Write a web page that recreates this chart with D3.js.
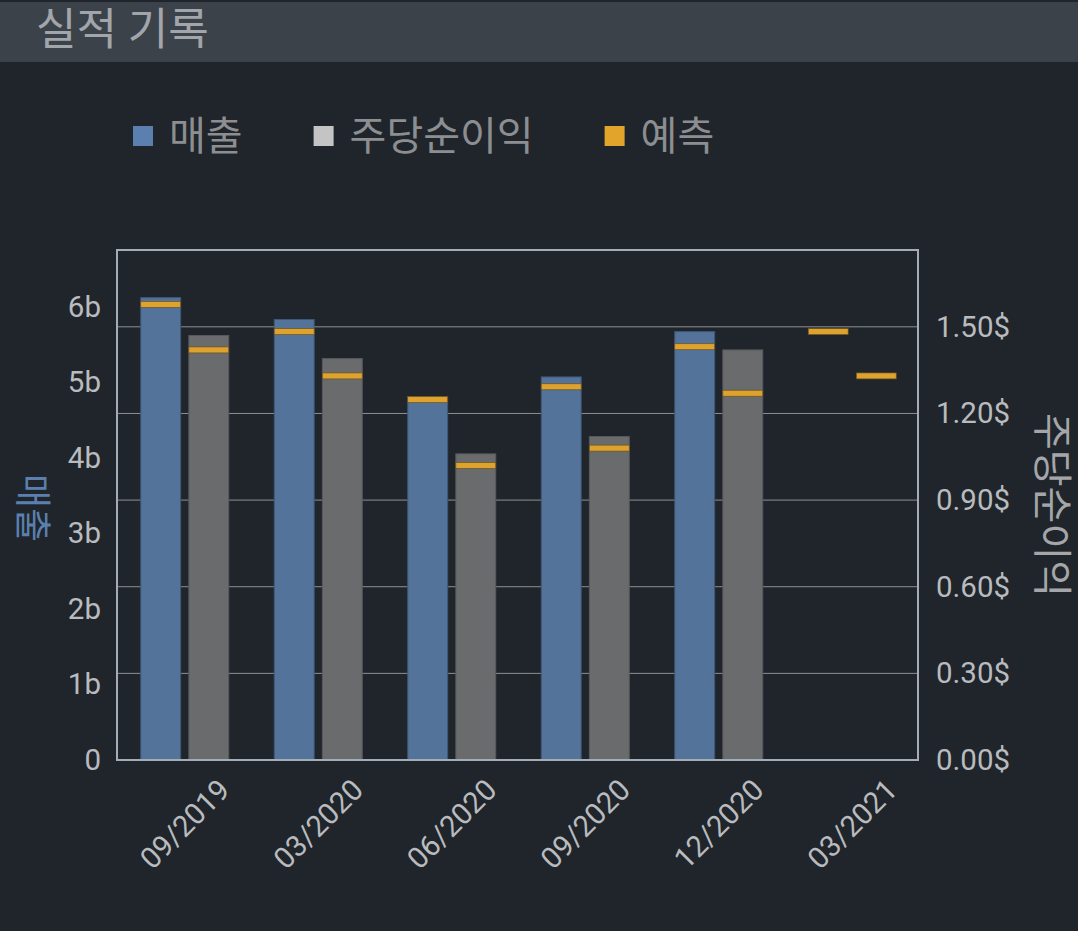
<!DOCTYPE html>
<html>
<head>
<meta charset="utf-8">
<script src="https://cdn.jsdelivr.net/npm/d3@7.9.0/dist/d3.min.js"></script>
<style>
  html, body { margin: 0; padding: 0; background: #1f252b; }
  svg { display: block; font-family: Roboto, "Noto Sans CJK KR", sans-serif; }
</style>
</head>
<body>
<div id="chart"></div>
<script>
// Data
const categories = ['09/2019', '03/2020', '06/2020', '09/2020', '12/2020', '03/2021'];
const revenue = [6.12, 5.83, 4.81, 5.07, 5.67, null];          // billions
const revenueForecast = [6.03, 5.67, 4.77, 4.94, 5.47, 5.67];  // billions
const eps = [1.47, 1.39, 1.06, 1.12, 1.42, null];              // $
const epsForecast = [1.42, 1.33, 1.02, 1.08, 1.27, 1.33];      // $
const revenueTicks = [0, 1, 2, 3, 4, 5, 6];
const epsTicks = [0, 0.3, 0.6, 0.9, 1.2, 1.5];
const legendItems = [
  { label: '매출', color: '#5b80b0' },
  { label: '주당순이익', color: '#c4c4c4' },
  { label: '예측', color: '#e3a42c' }
];

const width = 1078, height = 931;
const plot = { left: 117, right: 918, top: 250, bottom: 760 };

const svg = d3.select('#chart').append('svg')
  .attr('width', width).attr('height', height);

svg.append('rect').attr('width', width).attr('height', height).attr('fill', '#1f252b');

// header band
svg.append('rect').attr('x', 0).attr('y', 2).attr('width', width).attr('height', 60)
  .attr('fill', '#3c424a');
svg.append('text').attr('x', 36).attr('y', 45)
  .attr('font-size', 44).attr('fill', '#a2a6ab')
  .text('실적 기록');

// legend
const legend = svg.append('g').attr('transform', 'translate(133, 136)');
let lx = 0;
legendItems.forEach(item => {
  const g = legend.append('g').attr('transform', `translate(${lx}, 0)`);
  g.append('rect').attr('x', 0).attr('y', -10).attr('width', 20).attr('height', 20)
    .attr('fill', item.color);
  const t = g.append('text').attr('x', 36).attr('y', 0).attr('dy', '0.35em')
    .attr('font-size', 40).attr('fill', '#8c8e91').text(item.label);
  lx += 36 + t.node().getComputedTextLength() + 71;
});

// scales
const x0 = d3.scaleBand().domain(categories).range([plot.left, plot.right]);
const x1 = d3.scaleBand().domain(['rev', 'eps'])
  .range([0, x0.bandwidth()]).paddingInner(0.17).paddingOuter(0.473);
const yL = d3.scaleLinear().domain([0, 6.75]).range([plot.bottom, plot.top]);
const yR = d3.scaleLinear().domain([0, 1.766]).range([plot.bottom, plot.top]);

// gridlines (right axis)
svg.append('g').selectAll('line').data(epsTicks).join('line')
  .attr('x1', plot.left).attr('x2', plot.right)
  .attr('y1', d => yR(d)).attr('y2', d => yR(d))
  .attr('stroke', '#8d9093').attr('stroke-width', 1);

// bars
const groups = svg.append('g').selectAll('g').data(categories).join('g')
  .attr('transform', d => `translate(${x0(d) + 1}, 0)`);

groups.filter((d, i) => revenue[i] != null).append('rect')
  .attr('x', x1('rev')).attr('width', x1.bandwidth())
  .attr('y', d => yL(revenue[categories.indexOf(d)]))
  .attr('height', d => yL(0) - yL(revenue[categories.indexOf(d)]))
  .attr('fill', '#53739a').attr('stroke', '#3e5878').attr('stroke-width', 1);

groups.filter((d, i) => eps[i] != null).append('rect')
  .attr('x', x1('eps')).attr('width', x1.bandwidth())
  .attr('y', d => yR(eps[categories.indexOf(d)]))
  .attr('height', d => yR(0) - yR(eps[categories.indexOf(d)]))
  .attr('fill', '#696b6d').attr('stroke', '#58595b').attr('stroke-width', 1);

// forecast markers
groups.append('rect')
  .attr('x', x1('rev')).attr('width', x1.bandwidth())
  .attr('y', d => yL(revenueForecast[categories.indexOf(d)]) - 3).attr('height', 6)
  .attr('fill', '#dea22f').attr('stroke', '#6a5020').attr('stroke-width', 0.7);
groups.append('rect')
  .attr('x', x1('eps')).attr('width', x1.bandwidth())
  .attr('y', d => yR(epsForecast[categories.indexOf(d)]) - 3).attr('height', 6)
  .attr('fill', '#dea22f').attr('stroke', '#6a5020').attr('stroke-width', 0.7);

// frame
svg.append('rect')
  .attr('x', plot.left).attr('y', plot.top)
  .attr('width', plot.right - plot.left).attr('height', plot.bottom - plot.top)
  .attr('fill', 'none').attr('stroke', '#a3adb8').attr('stroke-width', 2);

// axes
const tickColor = '#b9bbbe';
const leftAxis = svg.append('g')
  .attr('transform', `translate(${plot.left}, 0)`)
  .call(d3.axisLeft(yL).tickValues(revenueTicks).tickSize(0).tickPadding(16)
    .tickFormat(d => d === 0 ? '0' : d + 'b'));
const rightAxis = svg.append('g')
  .attr('transform', `translate(${plot.right}, 0)`)
  .call(d3.axisRight(yR).tickValues(epsTicks).tickSize(0).tickPadding(18)
    .tickFormat(d => d.toFixed(2) + '$'));
const bottomAxis = svg.append('g')
  .attr('transform', `translate(1, ${plot.bottom})`)
  .call(d3.axisBottom(x0).tickSize(0));

[leftAxis, rightAxis, bottomAxis].forEach(a => {
  a.select('.domain').remove();
  a.selectAll('text').attr('font-size', 29.5).attr('fill', tickColor)
    .attr('font-family', 'Roboto, sans-serif');
});
bottomAxis.selectAll('text')
  .attr('y', 0).attr('dy', '0.35em').attr('text-anchor', 'middle')
  .attr('transform', 'translate(0, 64) rotate(-45)');

// axis titles
svg.append('text')
  .attr('transform', `translate(32, 508) rotate(90)`)
  .attr('text-anchor', 'middle').attr('dy', '0.35em')
  .attr('font-size', 37).attr('fill', '#5b80b0')
  .text('매출');
svg.append('text')
  .attr('transform', `translate(1052, 505) rotate(90)`)
  .attr('text-anchor', 'middle').attr('dy', '0.35em')
  .attr('font-size', 40).attr('fill', '#a4a6a9')
  .text('주당순이익');
</script>
</body>
</html>
